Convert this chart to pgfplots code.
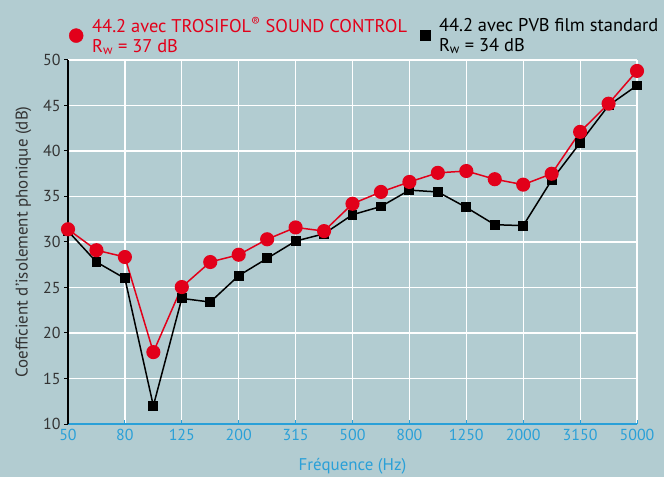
\documentclass[border=0pt]{standalone}
\usepackage{pgfplots}
\pgfplotsset{compat=1.18}
\usepackage{fontspec}
\setmainfont{PT Sans}
\definecolor{bg}{HTML}{B2CCD1}
\definecolor{myred}{HTML}{E2001A}
\definecolor{myblue}{HTML}{2AA0D8}
\definecolor{mygray}{HTML}{333333}
\begin{document}
\begin{tikzpicture}
\useasboundingbox (0,0) rectangle (664bp,477bp);
\fill[bg] (0,0) rectangle (664bp,477bp);
\begin{axis}[
  at={(68bp,53bp)}, anchor=south west,
  scale only axis, width=569bp, height=364bp,
  xmin=0, xmax=20, ymin=10, ymax=50,
  xtick={0,2,...,20},
  xticklabels={50,80,125,200,315,500,800,1250,2000,3150,5000},
  ytick={10,15,...,50},
  axis x line*=bottom, axis y line*=left,
  x axis line style={myblue, line width=1.5bp, -},
  y axis line style={black, line width=1.2bp, -},
  xtick style={myblue, line width=1bp},
  ytick style={black, line width=1bp},
  x tick label style={myblue, font=\fontsize{16}{16}\selectfont, yshift=-2bp},
  y tick label style={mygray, font=\fontsize{16}{16}\selectfont},
  xtick align=inside, ytick align=outside,
  major tick length=4bp,
  grid=major, major grid style={white, line width=1.2bp},
  xlabel={Fréquence (Hz)},
  xlabel style={myblue, font=\fontsize{17}{17}\selectfont, at={(axis description cs:0.5,0)}, anchor=north, yshift=-31bp},
  ylabel={Coefficient d'isolement phonique (dB)},
  ylabel style={mygray, font=\fontsize{17}{17}\selectfont},
  ylabel shift=5bp,
  legend columns=2,
  legend style={draw=none, fill=none, at={(-2bp,366bp)}, anchor=south west,
    font=\fontsize{18.5}{19.5}\selectfont, nodes={align=left},
    /tikz/every odd column/.append style={column sep=7bp},
    /tikz/every even column/.append style={column sep=11bp}},
  legend cell align=left,
  /pgf/number format/assume math mode=true,
]
\addlegendimage{only marks, mark=*, mark size=7bp, color=myred}
\addlegendentry{\textcolor{myred}{44.2 avec TROSIFOL\textsuperscript{®} SOUND CONTROL}\\\textcolor{myred}{R\textsubscript{w} = 37 dB}}
\addlegendimage{only marks, mark=square*, mark size=5bp, color=black}
\addlegendentry{44.2 avec PVB film standard\\R\textsubscript{w} = 34 dB}
\addplot[forget plot, black, line width=1.5bp, mark=square*, mark size=4.2bp] coordinates {
(0,31.2)(1,27.8)(2,26.0)(3,12.0)(4,23.8)(5,23.4)(6,26.3)(7,28.2)(8,30.1)(9,30.9)
(10,33.0)(11,33.9)(12,35.7)(13,35.5)(14,33.8)(15,31.9)(16,31.8)(17,36.8)(18,40.9)(19,45.0)(20,47.2)};
\addplot[forget plot, myred, line width=1.5bp, mark=*, mark size=6.3bp] coordinates {
(0,31.4)(1,29.1)(2,28.35)(3,17.9)(4,25.05)(5,27.8)(6,28.6)(7,30.3)(8,31.6)(9,31.2)
(10,34.2)(11,35.5)(12,36.6)(13,37.6)(14,37.8)(15,36.9)(16,36.3)(17,37.5)(18,42.1)(19,45.2)(20,48.8)};
\end{axis}
\end{tikzpicture}
\end{document}
